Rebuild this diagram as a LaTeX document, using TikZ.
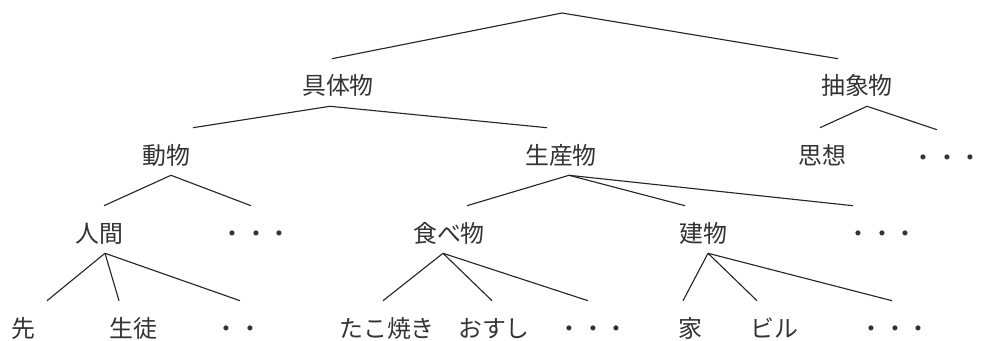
\documentclass[tikz,border=0pt]{standalone}
\usepackage{fontspec}
\newfontfamily\jpfont{Noto Sans CJK JP}
\tikzset{
    word/.style={anchor=base, inner sep=0pt, text height=0.9cm, text depth=0.275cm,
        font=\jpfont\fontsize{17pt}{20pt}\selectfont, text=black!80},
    branch/.style={line width=0.8pt, black!85}
}
\begin{document}
\begin{tikzpicture}[x=0.025cm, y=-0.025cm]
    \useasboundingbox (0, 0) rectangle (984, 341);
    \coordinate (root) at (562, 13);
    % first row
    \node[word] (gutai) at (338, 95) {具体物};
    \node[word] (chusho) at (857, 95) {抽象物};
    % second row
    \node[word] (dobutsu) at (166, 164) {動物};
    \node[word] (seisan) at (561, 164) {生産物};
    \node[word] (shiso) at (822, 164) {思想};
    \node[word] (dotsB) at (947, 166) {・・・};
    % third row
    \node[word] (ningen) at (99, 242) {人間};
    \node[word] (dotsC) at (256, 242) {・・・};
    \node[word] (tabe) at (449, 242) {食べ物};
    \node[word] (tate) at (703, 242) {建物};
    \node[word] (dotsD) at (882, 242) {・・・};
    % fourth row
    \node[word] (sen) at (23, 337) {先};
    \node[word] (seito) at (133, 337) {生徒};
    \node[word] (dotsE) at (238, 337) {・・};
    \node[word] (tako) at (387, 337) {たこ焼き};
    \node[word] (osushi) at (494, 337) {おすし};
    \node[word] (dotsF) at (593, 337) {・・・};
    \node[word] (ie) at (690, 337) {家};
    \node[word] (biru) at (774, 337) {ビル};
    \node[word] (dotsG) at (895, 337) {・・・};

    \draw[branch] (root) -- ([shift={(-6,0)}]gutai.north);
    \draw[branch] (root) -- ([shift={(-19,0)}]chusho.north);
    \foreach \c/\d in {dobutsu/27, seisan/-14}
        \draw[branch] ([shift={(-8,0)}]gutai.south) -- ([shift={(\d,0)}]\c.north);
    \foreach \c/\d in {shiso/-2, dotsB/-10}
        \draw[branch] ([shift={(10,0)}]chusho.south) -- ([shift={(\d,0)}]\c.north);
    \foreach \c/\d in {ningen/5, dotsC/-5}
        \draw[branch] ([shift={(5,0)}]dobutsu.south) -- ([shift={(\d,0)}]\c.north);
    \foreach \c/\d in {tabe/18, tate/-18, dotsD/-29}
        \draw[branch] ([shift={(8,0)}]seisan.south) -- ([shift={(\d,0)}]\c.north);
    \foreach \c/\d in {sen/24, seito/-14, dotsE/2}
        \draw[branch] ([shift={(6,0)}]ningen.south) -- ([shift={(\d,0)}]\c.north);
    \foreach \c/\d in {tako/-4, osushi/-2, dotsF/-5}
        \draw[branch] ([shift={(-6,0)}]tabe.south) -- ([shift={(\d,0)}]\c.north);
    \foreach \c/\d in {ie/-7, biru/-17, dotsG/-3}
        \draw[branch] ([shift={(5,0)}]tate.south) -- ([shift={(\d,0)}]\c.north);
\end{tikzpicture}
\end{document}
